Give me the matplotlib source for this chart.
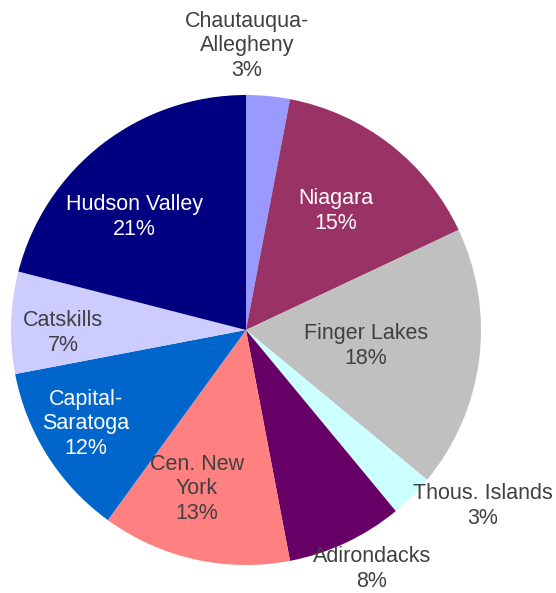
import matplotlib
matplotlib.use("Agg")
import matplotlib.pyplot as plt

plt.rcParams["font.family"] = ["Liberation Sans", "DejaVu Sans"]

regions = ["Chautauqua-\nAllegheny", "Niagara", "Finger Lakes", "Thous. Islands",
           "Adirondacks", "Cen. New\nYork", "Capital-\nSaratoga", "Catskills",
           "Hudson Valley"]
shares = [3, 15, 18, 3, 8, 13, 12, 7, 21]
colors = ["#9999FF", "#993366", "#C0C0C0", "#CCFFFF", "#660066",
          "#FF8080", "#0066CC", "#CCCCFF", "#000080"]
text_colors = ["#404040", "white", "#404040", "#404040", "#404040",
               "#404040", "white", "#404040", "white"]
# label centres in pixel coords (x, y from top)
label_pos = [(247, 46), (336, 211), (366, 346), (483, 506), (372, 569),
             (197, 489), (86, 424), (63, 333), (134, 217)]

W, H = 556, 593
fig = plt.figure(figsize=(W / 100, H / 100), dpi=100)
ax = fig.add_axes([0, 0, 1, 1])

ax.pie(shares, colors=colors, startangle=90, counterclock=False,
       center=(246, H - 330), radius=235,
       wedgeprops=dict(linewidth=0))

ax.set_xlim(0, W)
ax.set_ylim(0, H)
ax.set_aspect("equal")
ax.axis("off")

for name, pct, (x, y), tc in zip(regions, shares, label_pos, text_colors):
    ax.text(x, H - y, f"{name}\n{pct}%", ha="center", va="center",
            fontsize=15.5, color=tc, linespacing=1.22)

fig.savefig("out.png", dpi=100, facecolor="white")
